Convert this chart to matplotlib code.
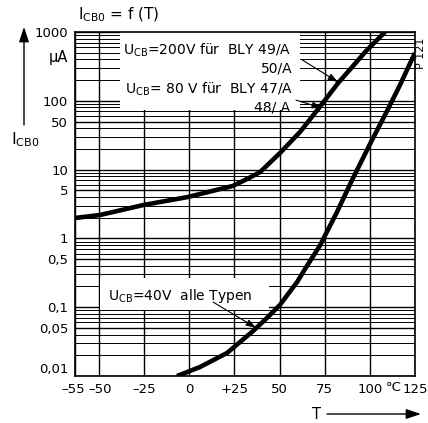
import numpy as np
import matplotlib
matplotlib.use("Agg")
import matplotlib.pyplot as plt
from matplotlib.ticker import LogLocator, FixedLocator, NullFormatter
from matplotlib.patches import Rectangle
import matplotlib.transforms as mtransforms

# ---- data ----
# U_CB = 200 V (BLY 49/A, 50/A) and 80 V (BLY 47/A, 48/A): one curve
t_high = [-55, -49.4, -25.6, -0.7, 24.2, 32.0, 39.2, 50.2, 61.3, 71.8, 82.4, 98.4, 108.4]
i_high = [1.98, 2.19, 3.05, 4.0, 5.8, 7.3, 9.2, 17.4, 35.2, 78.5, 181, 547, 1000]

# U_CB = 40 V, all types
t_low = [-6.8, 5.9, 20.9, 35.3, 43.0, 50.2, 59.7, 64.1, 72.5, 81.8, 90.7,
         101.2, 109.5, 116.7, 123.9, 125]
i_low = [0.01, 0.0135, 0.0216, 0.045, 0.0697, 0.108, 0.232, 0.359, 0.80,
         2.42, 7.55, 26.9, 71, 170, 433, 495]

x_ticks = [-55, -50, -25, 0, 25, 50, 75, 100, 125]
x_labels = ['\u201355', '\u201350', '\u201325', '0', '+25', '50', '75', '100', '125']
y_ticks = [0.01, 0.05, 0.1, 0.5, 1, 5, 10, 50, 100, 1000]
y_labels = ['0,01', '0,05', '0,1', '0,5', '1', '5', '10', '50', '100', '1000']

# temperature axis of the datasheet: -55..-50 is stretched, -50..125 linear
_tk = np.array([-55.0, -50.0, 125.0])
_pk = np.array([0.0, 24.0, 340.0])

def fwd(t):
    t = np.asarray(t, dtype=float)
    lo = _pk[0] + (t - _tk[0]) * (_pk[1] - _pk[0]) / (_tk[1] - _tk[0])
    hi = _pk[1] + (t - _tk[1]) * (_pk[2] - _pk[1]) / (_tk[2] - _tk[1])
    return np.where(t < _tk[1], lo, hi)

def inv(p):
    p = np.asarray(p, dtype=float)
    lo = _tk[0] + (p - _pk[0]) * (_tk[1] - _tk[0]) / (_pk[1] - _pk[0])
    hi = _tk[1] + (p - _pk[1]) * (_tk[2] - _tk[1]) / (_pk[2] - _pk[1])
    return np.where(p < _pk[1], lo, hi)

plt.rcParams['font.family'] = ['DejaVu Sans']

W, H = 428, 423
fig = plt.figure(figsize=(W / 100, H / 100), dpi=100)
ax = fig.add_axes([75 / W, 47 / H, 340 / W, 344 / H])

ax.set_xscale('function', functions=(fwd, inv))
ax.set_yscale('log')
ax.set_xlim(-55, 125)
ax.set_ylim(0.01, 1000)

ax.xaxis.set_major_locator(FixedLocator(x_ticks))
ax.set_xticklabels(x_labels)
ax.xaxis.set_minor_locator(FixedLocator([]))
ax.yaxis.set_major_locator(FixedLocator(y_ticks))
ax.set_yticklabels(y_labels)
ax.yaxis.set_minor_locator(LogLocator(base=10, subs=range(2, 10), numticks=20))
ax.yaxis.set_minor_formatter(NullFormatter())

ax.set_axisbelow(True)
ax.grid(which='major', axis='both', color='black', lw=1.0)
ax.grid(which='minor', axis='y', color='black', lw=0.7)
ax.tick_params(which='both', length=0, labelsize=9.5, pad=5)
for lab in ax.get_yticklabels():
    if lab.get_text() == '0,01':
        lab.set_verticalalignment('bottom')
for lab in ax.get_xticklabels():
    if lab.get_text() == '\u201355':
        lab.set_transform(lab.get_transform() +
                          mtransforms.ScaledTranslation(-2 / 100, 0, fig.dpi_scale_trans))
    if lab.get_text() == '\u201350':
        lab.set_transform(lab.get_transform() +
                          mtransforms.ScaledTranslation(1 / 100, 0, fig.dpi_scale_trans))
for s in ax.spines.values():
    s.set_linewidth(1.2)

# white label areas
ax.add_patch(Rectangle((0.132, 0.773), 0.53, 0.227, transform=ax.transAxes,
                       facecolor='white', edgecolor='none', zorder=1))
ax.add_patch(Rectangle((0.0735, 0.192), 0.4975, 0.093, transform=ax.transAxes,
                       facecolor='white', edgecolor='none', zorder=1))

ax.plot(t_high, i_high, color='black', lw=3.3, solid_capstyle='butt',
        solid_joinstyle='round', zorder=3)
ax.plot(t_low, i_low, color='black', lw=3.3, solid_capstyle='butt',
        solid_joinstyle='round', zorder=3)

fs = 10
ax.text(0.141, 0.948, r'U$_{\mathrm{CB}}$=200V für  BLY 49/A', transform=ax.transAxes,
        fontsize=fs, ha='left', va='center', zorder=4)
ax.text(0.641, 0.895, '50/A', transform=ax.transAxes,
        fontsize=fs, ha='right', va='center', zorder=4)
ax.text(0.147, 0.832, r'U$_{\mathrm{CB}}$= 80 V für  BLY 47/A', transform=ax.transAxes,
        fontsize=fs, ha='left', va='center', zorder=4)
ax.text(0.632, 0.781, '48/ A', transform=ax.transAxes,
        fontsize=fs, ha='right', va='center', zorder=4)
ax.text(0.097, 0.233, r'U$_{\mathrm{CB}}$=40V  alle Typen', transform=ax.transAxes,
        fontsize=fs, ha='left', va='center', zorder=4)

aprops = dict(arrowstyle='-|>,head_length=0.6,head_width=0.2', lw=0.8, color='black',
              shrinkA=0, shrinkB=0)
ax.annotate('', xy=(82.4, 187), xycoords='data', xytext=(0.668, 0.919),
            textcoords='axes fraction', arrowprops=aprops, zorder=5)
ax.annotate('', xy=(73.5, 78.5), xycoords='data', xytext=(0.65, 0.802),
            textcoords='axes fraction', arrowprops=aprops, zorder=5)
ax.annotate('', xy=(37, 0.05), xycoords='data', xytext=(0.406, 0.215),
            textcoords='axes fraction', arrowprops=aprops, zorder=5)

# micro-ampere unit and degree unit
ax.text(-0.02, 430, '\u00b5A', transform=ax.get_yaxis_transform(), fontsize=10.5,
        ha='right', va='center')
ax.text(113, -0.0145, '\u00b0C', transform=ax.get_xaxis_transform(), fontsize=9.5,
        ha='center', va='top')

# titles and axis labels outside the axes
fig.text(78 / W, 1 - 15 / H, r'I$_{\mathrm{CB0}}$ = f (T)', fontsize=11,
         ha='left', va='center')
fig.text(25 / W, 1 - 140 / H, r'I$_{\mathrm{CB0}}$', fontsize=11.5,
         ha='center', va='center')
fig.text(317 / W, 1 - 414 / H, 'T', fontsize=10.5, ha='center', va='center')
fig.text(421 / W, 1 - 53 / H, 'P 121', fontsize=8, rotation=90,
         ha='center', va='center')

big = dict(arrowstyle='-|>,head_length=0.9,head_width=0.3', lw=1.0, color='black',
           shrinkA=0, shrinkB=0)
ax.annotate('', xy=(24 / W, 1 - 27 / H), xytext=(24 / W, 1 - 125 / H),
            xycoords='figure fraction', textcoords='figure fraction',
            arrowprops=big, annotation_clip=False)
ax.annotate('', xy=(421 / W, 1 - 414 / H), xytext=(327 / W, 1 - 414 / H),
            xycoords='figure fraction', textcoords='figure fraction',
            arrowprops=big, annotation_clip=False)

fig.savefig('out.png', dpi=100)
